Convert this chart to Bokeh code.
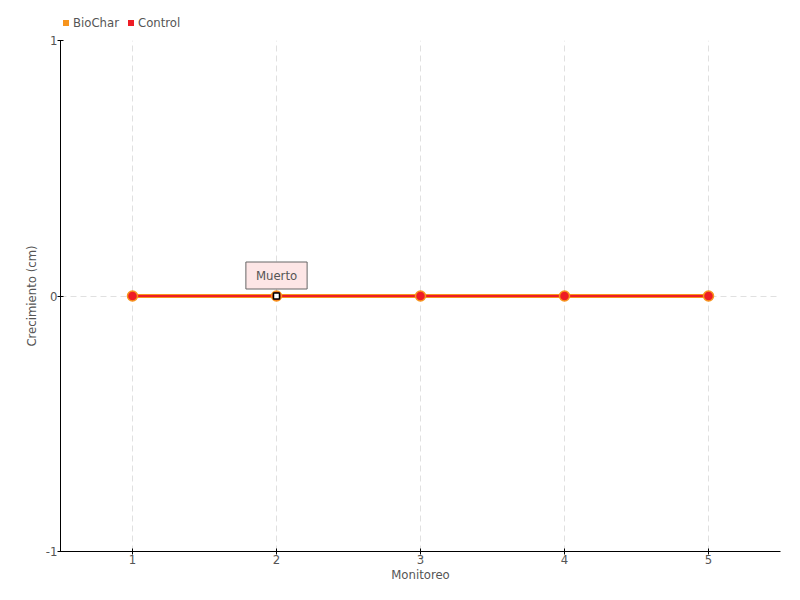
from bokeh.plotting import figure
from bokeh.layouts import column
from bokeh.models import Legend, LegendItem, Label, Range1d, FixedTicker
from bokeh.embed import file_html
from bokeh.resources import INLINE

monitoreo = [1, 2, 3, 4, 5]
biochar = [0, 0, 0, 0, 0]
control = [0, 0, 0, 0, 0]
dead_x = [2]
dead_y = [0]
dead_label = "Muerto"
series_names = ["BioChar", "Control"]
series_values = [biochar, control]
series_colors = ["#f7941d", "#ee1c25"]
y_ticks = [-1, 0, 1]
y_tick_labels = {-1: "-1", 0: "0", 1: "1"}

FONT = "DejaVu Sans Condensed"
TXT = "#555555"

# legend strip (its renderers lie outside its visible range; only the legend shows)
lg = figure(width=784, height=32, output_backend="svg", toolbar_location=None,
            x_range=Range1d(-20, -10), y_range=Range1d(-20, -10),
            min_border=0, x_axis_type=None, y_axis_type=None)
lg.outline_line_color = None
lg.grid.visible = False
items = []
for name, vals, col in zip(series_names, series_values, series_colors):
    r = lg.scatter(monitoreo, vals, marker="square", size=8, fill_color=col, line_color=None)
    items.append(LegendItem(label=name, renderers=[r]))
leg = Legend(items=items, orientation="horizontal", location=(-2, 2), spacing=4,
             glyph_width=15, glyph_height=15, label_text_font=FONT, label_text_font_size="13px",
             label_text_color=TXT, label_height=16, border_line_color=None,
             background_fill_alpha=0, padding=0, margin=0, label_standoff=0)
lg.add_layout(leg)

p = figure(width=784, height=552, output_backend="svg", toolbar_location=None,
           x_range=Range1d(0.5, 5.5), y_range=Range1d(-1, 1),
           min_border_left=60, min_border_right=4, min_border_top=8, min_border_bottom=24)
p.outline_line_color = None

p.xaxis.ticker = FixedTicker(ticks=monitoreo)
p.yaxis.ticker = FixedTicker(ticks=y_ticks)
p.yaxis.major_label_overrides = y_tick_labels
for ax in (p.xaxis[0], p.yaxis[0]):
    ax.axis_line_color = "black"
    ax.major_tick_line_color = "black"
    ax.minor_tick_line_color = None
    ax.major_tick_in = 3
    ax.major_tick_out = 3
    ax.major_label_text_font = FONT
    ax.major_label_text_font_size = "13px"
    ax.major_label_text_color = TXT
    ax.axis_label_text_font = FONT
    ax.axis_label_text_font_size = "13px"
    ax.axis_label_text_font_style = "normal"
    ax.axis_label_text_color = TXT
    ax.major_label_standoff = 0
    ax.axis_label_standoff = 0
p.yaxis.axis_label_standoff = 4
p.xaxis.axis_label = "Monitoreo"
p.yaxis.axis_label = "Crecimiento (cm)"

p.grid.grid_line_color = "#e0e0e0"
p.grid.grid_line_dash = "6 4"

p.line(monitoreo, biochar, line_color=series_colors[0], line_width=4)
p.line(monitoreo, control, line_color=series_colors[1], line_width=2)
p.scatter(monitoreo, control, size=10, fill_color=series_colors[1], line_color=series_colors[0], line_width=1.5)
p.scatter(dead_x, dead_y, marker="square", size=6, fill_color="white", line_color="black", line_width=1.5)

p.add_layout(Label(x=dead_x[0], y=dead_y[0], y_offset=7, text=dead_label, text_align="center",
                   text_baseline="bottom", text_font=FONT, text_font_size="13px", text_color=TXT,
                   background_fill_color="#fde6e6", border_line_color="#666666",
                   padding=dict(left=10, right=10, top=6, bottom=6)))

layout = column(lg, p, spacing=0)
open("out.html", "w").write(file_html(layout, INLINE))
